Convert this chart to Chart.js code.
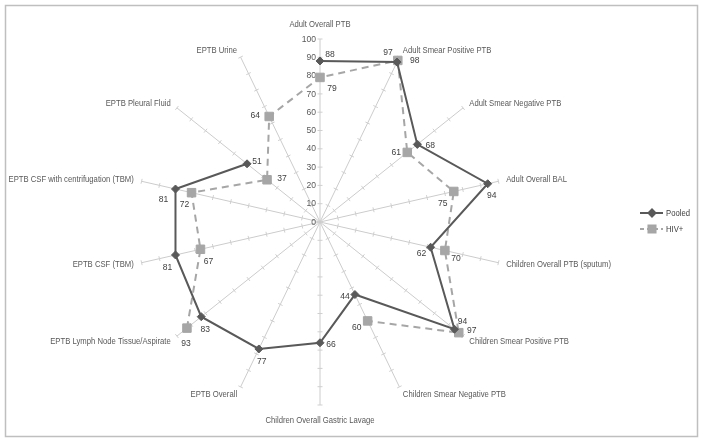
<!DOCTYPE html>
<html>
<head>
<meta charset="utf-8">
<script src="https://cdn.jsdelivr.net/npm/chart.js@4"></script>
<style>
  html, body { margin: 0; padding: 0; background: #fff; }
  canvas { display: block; }
</style>
</head>
<body>
<canvas id="chart" width="704" height="444"></canvas>
<script>
const categories = [
    'Adult Overall PTB',
    'Adult Smear Positive PTB',
    'Adult Smear Negative PTB',
    'Adult Overall BAL',
    'Children Overall PTB (sputum)',
    'Children Smear Positive PTB',
    'Children Smear Negative PTB',
    'Children Overall Gastric Lavage',
    'EPTB Overall',
    'EPTB Lymph Node Tissue/Aspirate',
    'EPTB CSF (TBM)',
    'EPTB CSF with centrifugation (TBM)',
    'EPTB Pleural Fluid',
    'EPTB Urine'
];
const pooled = [88, 97, 68, 94, 62, 94, 44, 66, 77, 83, 81, 81, 51, null];
const hivPositive = [79, 98, 61, 75, 70, 97, 60, null, null, 93, 67, 72, 37, 64];
const tickValues = [0, 10, 20, 30, 40, 50, 60, 70, 80, 90, 100];

// where each value label sits relative to its point (dx, dy)
const pooledLabelOffsets = [[10, -7], [-9, -10], [13, 1], [4, 12], [-9, 6], [8, -8], [-10, 2],
    [11, 2], [3, 12], [4, 13], [-8, 12], [-12, 10], [10, -2], null];
const hivLabelOffsets = [[12, 11], [17, 0], [-11, 0], [-11, 12], [11, 8], [13, -2], [-11, 6],
    null, null, [-1, 15], [8, 12], [-7, 12], [15, -1], [-14, -1]];

const textFont = '9.5px "Liberation Sans", Arial, sans-serif';
const numFont = '9.5px "Liberation Sans", Arial, sans-serif';

// squeeze text a little so Liberation Sans reads closer to Calibri
function fillNarrow(ctx, text, x, y, k) {
    const w = ctx.measureText(text).width;
    ctx.fillText(text, x, y, w * (k || 0.81));
}

const decorations = {
    id: 'decorations',
    beforeDatasetsDraw(chart) {
        const ctx = chart.ctx;
        const scale = chart.scales.r;
        const r = scale.drawingArea;
        ctx.save();

        // small tick marks on every spoke
        ctx.strokeStyle = '#cfcfcf';
        ctx.lineWidth = 1;
        categories.forEach((c, i) => {
            const a = scale.getIndexAngle(i) - Math.PI / 2;
            const px = -Math.sin(a) * 2.5, py = Math.cos(a) * 2.5;
            tickValues.forEach(v => {
                if (v === 0) return;
                const p = scale.getPointPosition(i, scale.getDistanceFromCenterForValue(v));
                ctx.beginPath();
                ctx.moveTo(p.x - px, p.y - py);
                ctx.lineTo(p.x + px, p.y + py);
                ctx.stroke();
            });
        });

        // value axis labels
        ctx.fillStyle = '#595959';
        ctx.font = numFont;
        ctx.textAlign = 'right';
        ctx.textBaseline = 'middle';
        tickValues.forEach(v => {
            const y = scale.yCenter - scale.getDistanceFromCenterForValue(v);
            fillNarrow(ctx, String(v), scale.xCenter - 4, y, 0.9);
        });

        // category labels
        ctx.font = textFont;
        categories.forEach((c, i) => {
            const a = scale.getIndexAngle(i) - Math.PI / 2;
            const cos = Math.cos(a);
            let p;
            if (Math.abs(cos) < 0.05) {
                p = scale.getPointPosition(i, r + 15);
                ctx.textAlign = 'center';
            } else {
                p = scale.getPointPosition(i, r + 8);
                ctx.textAlign = cos > 0 ? 'left' : 'right';
            }
            fillNarrow(ctx, c, p.x, p.y);
        });
        ctx.restore();
    },
    afterDatasetsDraw(chart) {
        const ctx = chart.ctx;
        ctx.save();
        ctx.font = numFont;
        ctx.fillStyle = '#404040';
        ctx.textAlign = 'center';
        ctx.textBaseline = 'middle';
        [pooledLabelOffsets, hivLabelOffsets].forEach((offsets, d) => {
            const meta = chart.getDatasetMeta(d);
            const values = chart.data.datasets[d].data;
            meta.data.forEach((pt, i) => {
                if (values[i] === null || !offsets[i]) return;
                fillNarrow(ctx, String(values[i]), pt.x + offsets[i][0], pt.y + offsets[i][1], 0.9);
            });
        });

        // legend
        const items = [
            { label: 'Pooled', color: '#595959', dash: [], style: 'rectRot', radius: 3.5, y: 213 },
            { label: 'HIV+', color: '#a6a6a6', dash: [4, 3], style: 'rect', radius: 5, y: 229 }
        ];
        items.forEach(it => {
            ctx.strokeStyle = it.color;
            ctx.lineWidth = 2;
            ctx.setLineDash(it.dash);
            ctx.beginPath();
            ctx.moveTo(640, it.y);
            ctx.lineTo(663, it.y);
            ctx.stroke();
            ctx.setLineDash([]);
            Chart.helpers.drawPoint(ctx, { pointStyle: it.style, radius: it.radius, borderWidth: 1 }, 652, it.y);
            ctx.fillStyle = it.color;
            ctx.fill();
            ctx.fillStyle = '#404040';
            ctx.font = textFont;
            ctx.textAlign = 'left';
            fillNarrow(ctx, it.label, 666, it.y);
        });

        // outer border
        ctx.strokeStyle = '#bfbfbf';
        ctx.lineWidth = 1.5;
        ctx.strokeRect(5.5, 5.5, 692, 431);
        ctx.restore();
    }
};

const chart = new Chart(document.getElementById('chart').getContext('2d'), {
    type: 'radar',
    data: {
        labels: categories,
        datasets: [
            {
                label: 'Pooled',
                data: pooled,
                borderColor: '#595959',
                backgroundColor: '#595959',
                borderWidth: 2,
                fill: false,
                pointStyle: 'rectRot',
                pointRadius: 4,
                pointBorderWidth: 1,
                pointBackgroundColor: '#595959',
                pointBorderColor: '#595959'
            },
            {
                label: 'HIV+',
                data: hivPositive,
                borderColor: '#a6a6a6',
                backgroundColor: '#a6a6a6',
                borderWidth: 2,
                borderDash: [7, 5],
                fill: false,
                pointStyle: 'rect',
                pointRadius: 6,
                pointBorderWidth: 1,
                pointBackgroundColor: '#a6a6a6',
                pointBorderColor: '#a6a6a6'
            }
        ]
    },
    options: {
        responsive: false,
        animation: false,
        spanGaps: false,
        plugins: {
            legend: { display: false },
            tooltip: { enabled: false }
        },
        scales: {
            r: {
                min: 0,
                max: 100,
                ticks: { display: false, stepSize: 10 },
                grid: { display: false },
                angleLines: { display: true, color: '#cccccc', lineWidth: 1 },
                pointLabels: { display: false },
                afterFit(scale) {
                    scale.xCenter = 320;
                    scale.yCenter = 222;
                    scale.drawingArea = 183;
                }
            }
        }
    },
    plugins: [decorations]
});
</script>
</body>
</html>
